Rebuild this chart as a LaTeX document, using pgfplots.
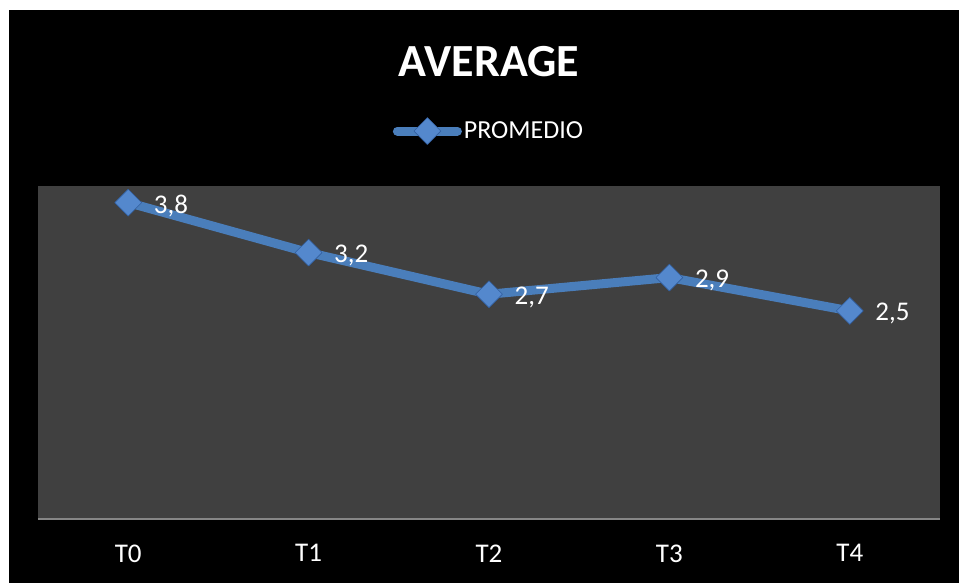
\documentclass[border=0pt]{standalone}
\usepackage{fontspec}
\setmainfont{Carlito}
\usepackage{pgfplots}
\usepackage{pgfplotstable}
\pgfplotsset{compat=1.18}
\definecolor{bg}{RGB}{64,64,64}
\definecolor{ln}{RGB}{74,126,187}
\definecolor{mk}{RGB}{84,136,205}
\definecolor{mkd}{RGB}{50,95,160}
\definecolor{axl}{RGB}{134,134,134}
\pgfplotstableread{
x y lab
0 3.8 {3,8}
1 3.2 {3,2}
2 2.7 {2,7}
3 2.9 {2,9}
4 2.5 {2,5}
}\avg
\begin{document}
\begin{tikzpicture}[x=1pt,y=1pt]
\fill[white] (0,0) rectangle (959,583);
\fill[black] (9,0) rectangle (959,573);
\node[text=white,font=\fontsize{46}{54}\selectfont\bfseries] at (489,521) {AVERAGE};
\begin{axis}[
  at={(38pt,64pt)}, anchor=south west,
  scale only axis, width=902pt, height=333pt,
  xmin=-0.5, xmax=4.5, ymin=0, ymax=4,
  axis background/.style={fill=bg},
  axis x line*=bottom, axis y line=none,
  x axis line style={draw=axl, line width=2pt},
  xtick={0,1,2,3,4}, xticklabels={T0,T1,T2,T3,T4},
  major tick length=0pt,
  xticklabel style={text=white, font=\fontsize{27}{32}\selectfont, yshift=-22pt},
  ytick=\empty,
  clip=false,
  legend style={at={(axis description cs:0.5,1.165)}, anchor=center, draw=none, fill=none, text=white, font=\fontsize{26}{31}\selectfont, inner xsep=0pt},
  legend image code/.code={\draw[#1, mark repeat=2, mark phase=2] plot coordinates {(0pt,0pt)(30pt,0pt)(60pt,0pt)};},
]
\addplot[color=ln, line width=9pt, line join=round, line cap=round,
  mark=square*, mark size=9.5pt,
  mark options={rotate=45, fill=mk, draw=mkd, line width=0.6pt, solid},
  nodes near coords, point meta=explicit symbolic,
  every node near coord/.append style={anchor=west, xshift=22pt, yshift=-3pt, text=white, font=\fontsize{27}{32}\selectfont}]
  table[x=x,y=y,meta=lab]{\avg};
\legend{PROMEDIO}
\end{axis}
\end{tikzpicture}
\end{document}
